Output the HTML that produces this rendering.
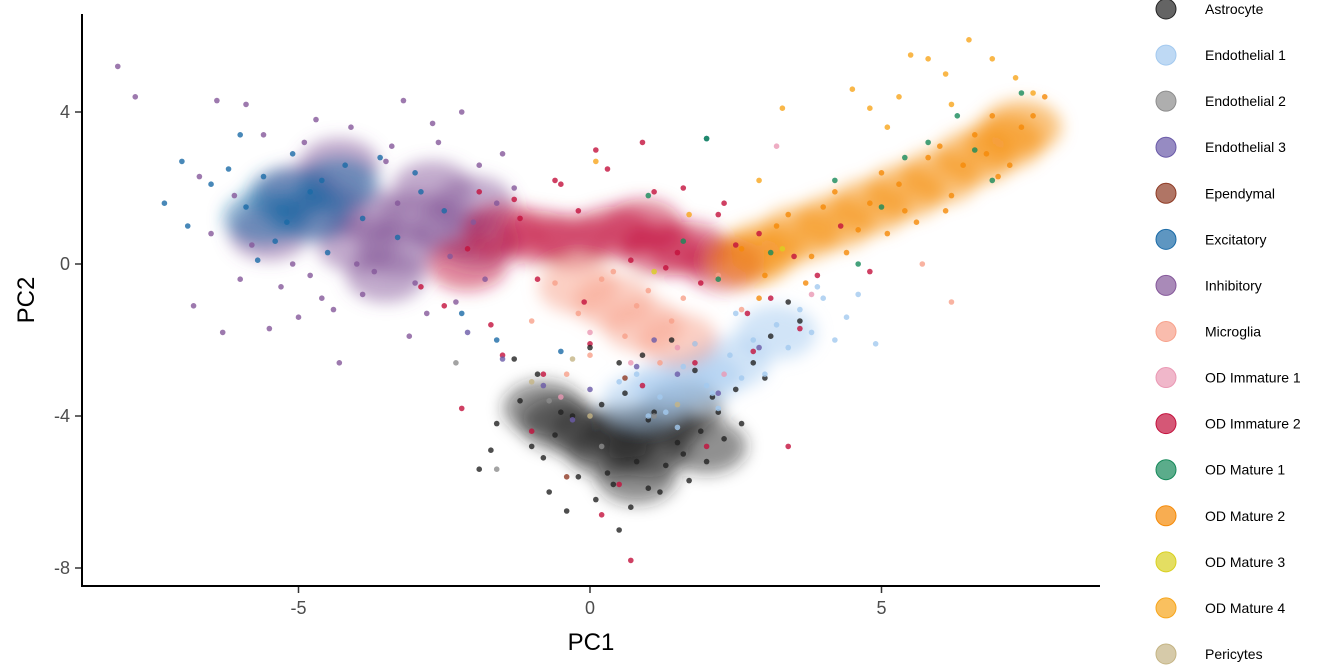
<!DOCTYPE html>
<html><head><meta charset="utf-8">
<style>
html,body{margin:0;padding:0;background:#fff;}
svg{display:block;font-family:"Liberation Sans",Arial,sans-serif;}
</style></head>
<body>
<svg id="chart" width="1344" height="672" viewBox="0 0 1344 672">
  <defs><filter id="blur" x="-50%" y="-50%" width="200%" height="200%"><feGaussianBlur stdDeviation="8"/></filter></defs>
  <g id="dense" filter="url(#blur)"></g>
  <g id="points"></g>
  <line x1="82" y1="14" x2="82" y2="587" stroke="#000" stroke-width="2"/>
  <line x1="81" y1="586" x2="1100" y2="586" stroke="#000" stroke-width="2"/>
  <g id="axes"></g>
  <text x="591" y="650" font-size="24" text-anchor="middle" fill="#000">PC1</text>
  <text transform="translate(34,300) rotate(-90)" font-size="24" text-anchor="middle" fill="#000">PC2</text>
  <g id="legend"></g>
</svg>
<script>
const categories = ["Astrocyte","Endothelial 1","Endothelial 2","Endothelial 3","Ependymal","Excitatory","Inhibitory","Microglia","OD Immature 1","OD Immature 2","OD Mature 1","OD Mature 2","OD Mature 3","OD Mature 4","Pericytes"];
const colors = ["#222222","#a3c9ef","#8c8c8c","#6a5aa8","#8e3a24","#1a6aa6","#85589a","#f7a08a","#ea98b4","#c3103c","#16895a","#f58a07","#d9d020","#f7a51b","#c4b484"];
const xTicks = [-5,0,5];
const yTicks = [4,0,-4,-8];

const coreCat = [6,6,6,6,6,6,6,6,6,6,6,6,6,5,5,5,5,9,9,9,9,9,9,9,9,9,0,0,0,0,0,0,0,0,0,0,1,1,1,1,1,11,11,11,11,11,11,11,11,11,11,7,7,7,7];
const coreX =   [-4.5,-3.8,-3.0,-2.4,-4.0,-3.3,-2.7,-5.0,-1.9,-5.5,-4.3,-2.0,-3.5,-5.2,-4.8,-4.3,-5.6,-1.5,-0.9,-0.3,0.4,-2.1,1.2,0.9,1.7,2.3,0.0,0.6,1.2,-0.5,0.3,1.0,1.6,-0.8,2.0,0.8,1.4,1.9,2.4,0.9,3.2,3.0,3.6,4.2,4.8,5.4,6.0,6.6,7.1,2.7,7.4,0.4,0.9,-0.2,1.5];
const coreY =   [1.4,1.3,1.2,0.9,0.5,0.4,2.0,1.9,0.6,0.8,2.6,1.6,-0.3,1.8,1.3,2.1,1.2,0.9,0.7,0.6,0.8,0.0,0.4,1.0,0.4,0.0,-4.5,-4.4,-4.3,-4.2,-4.9,-4.9,-3.8,-3.8,-4.8,-5.6,-3.2,-3.0,-2.6,-3.6,-1.8,0.4,0.8,1.1,1.5,1.9,2.3,2.8,3.2,0.1,3.6,-1.0,-1.6,-0.6,-2.0];

const astroX=[-1.9,-1.6,-1.2,-0.8,-0.5,-0.2,0.1,0.4,0.7,1.0,1.3,1.6,1.9,2.2,2.5,2.8,3.1,3.4,-1.0,-0.6,0.2,0.6,1.1,1.5,2.0,-1.3,-0.9,0.0,0.5,0.9,1.4,1.8,2.3,-0.4,0.3,0.8,1.2,2.6,3.0,3.6,-1.7,-0.3,1.7,2.1,0.5,-0.7,1.0];
const astroY=[-5.4,-4.2,-3.6,-5.1,-3.9,-5.6,-6.2,-5.8,-6.4,-5.9,-5.3,-5.0,-4.4,-3.9,-3.3,-2.6,-1.9,-1.0,-4.8,-4.5,-3.7,-3.4,-3.9,-4.7,-5.2,-2.5,-2.9,-2.2,-2.6,-2.4,-2.0,-2.8,-4.6,-6.5,-5.5,-5.2,-6.0,-4.2,-3.0,-1.5,-4.9,-4.0,-5.7,-3.5,-7.0,-6.0,-4.1];
const endo1X=[0.8,1.2,1.6,2.0,2.4,2.8,3.2,3.6,4.0,4.4,4.6,1.0,1.5,2.2,2.6,3.0,3.4,3.8,4.2,0.5,1.8,2.5,3.9,4.9,1.3,2.1];
const endo1Y=[-2.9,-3.5,-2.7,-3.2,-2.4,-2.0,-1.6,-1.2,-0.9,-1.4,-0.8,-4.0,-4.3,-3.8,-3.0,-2.9,-2.2,-1.8,-2.0,-3.1,-2.1,-1.3,-0.6,-2.1,-3.9,-3.4];
const endo2X=[-1.6,-0.7,0.2,1.1,-2.3];const endo2Y=[-5.4,-3.6,-4.8,-4.0,-2.6];
const endo3X=[-2.1,-1.5,-0.8,0.0,0.8,1.5,2.2,2.9,-0.3,1.1];const endo3Y=[-1.8,-2.5,-3.2,-3.3,-2.7,-2.9,-3.4,-2.2,-4.1,-2.0];
const ependX=[0.6,-0.4];const ependY=[-3.0,-5.6];
const excX=[-7.3,-7.0,-6.9,-6.5,-6.2,-5.9,-5.6,-5.4,-5.1,-4.8,-4.5,-4.2,-3.9,-3.6,-3.3,-2.9,-2.5,-5.7,-5.2,-4.6,-3.0,-1.6,-0.5,2.0,-2.2,-6.0];
const excY=[1.6,2.7,1.0,2.1,2.5,1.5,2.3,0.6,2.9,1.9,0.3,2.6,1.2,2.8,0.7,1.9,1.4,0.1,1.1,2.2,2.4,-2.0,-2.3,3.3,-1.3,3.4];
const inhX=[-8.1,-7.8,-6.4,-5.9,-3.2,-2.2,-6.8,-6.3,-4.3,-5.5,-6.7,-6.1,-5.8,-5.3,-4.9,-4.6,-4.1,-3.7,-3.4,-3.0,-2.6,-2.3,-1.9,-1.6,-1.3,-5.0,-4.4,-3.9,-3.5,-2.8,-2.4,-6.5,-5.1,-4.7,-3.1,-2.0,-1.5,-5.6,-4.0,-3.3,-6.0,-2.7,-1.8,-4.8];
const inhY=[5.2,4.4,4.3,4.2,4.3,4.0,-1.1,-1.8,-2.6,-1.7,2.3,1.8,0.5,-0.6,3.2,-0.9,3.6,-0.2,3.1,-0.5,3.2,-1.0,2.6,1.6,2.0,-1.4,-1.2,-0.8,2.7,-1.3,0.2,0.8,0.0,3.8,-1.9,1.1,2.9,3.4,0.0,1.6,-0.4,3.7,-0.4,-0.3];
const microX=[-0.6,-0.2,0.2,0.6,1.0,1.4,1.8,2.2,0.0,0.4,0.8,1.2,-1.0,-0.4,1.6,2.6,6.2,5.7];
const microY=[-0.5,-1.3,-0.4,-1.9,-0.7,-1.5,-2.1,-0.3,-2.4,-0.2,-1.1,-2.6,-1.5,-2.9,-0.9,-1.2,-1.0,0.0];
const odi1X=[0.0,0.7,1.5,2.3,-0.5,3.2,3.8];const odi1Y=[-1.8,-2.6,-2.2,-2.9,-3.5,3.1,-0.8];
const odi2X=[-2.9,-2.5,-2.1,-1.7,-1.3,-0.9,-0.5,-0.1,0.3,0.7,1.1,1.5,1.9,2.3,2.7,3.1,3.5,3.9,4.3,-1.5,-0.8,0.0,0.9,1.8,2.8,3.6,-2.2,-1.0,0.5,2.0,-1.9,-0.2,1.3,2.5,0.2,0.7,3.4,4.8,-1.2,0.9,1.6,-0.6,0.1,2.2,2.9];
const odi2Y=[-0.6,-1.1,0.4,-1.6,1.7,-0.4,2.1,-1.0,2.5,0.1,1.9,0.3,-0.5,1.6,-1.3,-0.9,0.2,-0.3,1.0,-2.4,-2.9,-2.1,-3.2,-2.6,-2.3,-1.7,-3.8,-4.4,-5.8,-4.8,1.9,1.4,-0.1,0.5,-6.6,-7.8,-4.8,-0.2,1.2,3.2,2.0,2.2,3.0,1.3,0.8];
const odm1X=[1.0,1.6,2.0,2.2,3.1,4.2,5.0,5.8,6.3,6.9,7.4,4.6,5.4,6.6];const odm1Y=[1.8,0.6,3.3,-0.4,0.3,2.2,1.5,3.2,3.9,2.2,4.5,0.0,2.8,3.0];
const odm2X=[2.6,3.0,3.4,3.8,4.2,4.6,5.0,5.4,5.8,6.2,6.6,7.0,7.4,7.8,3.2,3.7,4.4,5.1,5.6,6.0,6.4,6.9,7.2,2.9,4.0,4.8,5.3,6.8,7.6,6.1];
const odm2Y=[0.4,-0.3,1.3,0.2,1.9,0.9,2.4,1.4,2.8,1.8,3.4,2.3,3.6,4.4,1.0,-0.5,0.3,0.8,1.1,3.1,2.6,3.9,2.6,-0.9,1.5,1.6,2.1,2.9,3.9,1.4];
const odm3X=[1.1,3.3];const odm3Y=[-0.2,0.4];
const odm4X=[0.1,1.7,3.3,4.5,5.3,5.5,5.8,6.1,6.5,6.9,7.3,4.8,5.1,2.9,7.6,6.2];const odm4Y=[2.7,1.3,4.1,4.6,4.4,5.5,5.4,5.0,5.9,5.4,4.9,4.1,3.6,2.2,4.5,4.2];
const periX=[-1.0,0.0,1.5,-0.3];const periY=[-3.1,-4.0,-3.7,-2.5];

const seriesX=[astroX,endo1X,endo2X,endo3X,ependX,excX,inhX,microX,odi1X,odi2X,odm1X,odm2X,odm3X,odm4X,periX];
const seriesY=[astroY,endo1Y,endo2Y,endo3Y,ependY,excY,inhY,microY,odi1Y,odi2Y,odm1Y,odm2Y,odm3Y,odm4Y,periY];
const drawOrder=[6,5,9,7,8,0,1,2,3,4,14,11,13,10,12];

const NS="http://www.w3.org/2000/svg";
function xs(v){return 590+v*58.3;}
function ys(v){return 264-v*38;}

const dense=document.getElementById('dense');
for(let i=0;i<coreCat.length;i++){
  const c=document.createElementNS(NS,'ellipse');
  
  
  c.setAttribute('cx',xs(coreX[i]));c.setAttribute('cy',ys(coreY[i]));
  c.setAttribute('rx',40);c.setAttribute('ry',27);
  c.setAttribute('fill',colors[coreCat[i]]);c.setAttribute('opacity',0.5);
  dense.appendChild(c);
}
const pts=document.getElementById('points');
drawOrder.forEach(k=>{
  const X=seriesX[k],Y=seriesY[k];
  for(let i=0;i<X.length;i++){
    const c=document.createElementNS(NS,'circle');
    
    
    c.setAttribute('cx',xs(X[i]));c.setAttribute('cy',ys(Y[i]));
    c.setAttribute('r',2.8);c.setAttribute('fill',colors[k]);c.setAttribute('opacity',0.8);
    pts.appendChild(c);
  }
});
const axes=document.getElementById('axes');
xTicks.forEach(t=>{
  const l=document.createElementNS(NS,'line');
  
  
  l.setAttribute('x1',xs(t));l.setAttribute('x2',xs(t));l.setAttribute('y1',587);l.setAttribute('y2',593);
  l.setAttribute('stroke','#333');l.setAttribute('stroke-width',1.5);axes.appendChild(l);
  const tx=document.createElementNS(NS,'text');
  
  
  tx.setAttribute('x',xs(t));tx.setAttribute('y',614);tx.setAttribute('font-size',18);
  tx.setAttribute('text-anchor','middle');tx.setAttribute('fill','#4d4d4d');tx.textContent=t;axes.appendChild(tx);
});
yTicks.forEach(t=>{
  const l=document.createElementNS(NS,'line');
  
  
  l.setAttribute('x1',75);l.setAttribute('x2',81);l.setAttribute('y1',ys(t));l.setAttribute('y2',ys(t));
  l.setAttribute('stroke','#333');l.setAttribute('stroke-width',1.5);axes.appendChild(l);
  const tx=document.createElementNS(NS,'text');
  
  
  tx.setAttribute('x',70);tx.setAttribute('y',ys(t)+6);tx.setAttribute('font-size',18);
  tx.setAttribute('text-anchor','end');tx.setAttribute('fill','#4d4d4d');tx.textContent=t;axes.appendChild(tx);
});
const leg=document.getElementById('legend');
categories.forEach((name,i)=>{
  const y=9+i*46.07;
  const g=document.createElementNS(NS,'g');
  
  
  const c=document.createElementNS(NS,'circle');
  
  
  c.setAttribute('cx',1166);c.setAttribute('cy',y);c.setAttribute('r',10);
  c.setAttribute('fill',colors[i]);c.setAttribute('fill-opacity',0.7);c.setAttribute('stroke',colors[i]);c.setAttribute('stroke-width',1);
  g.appendChild(c);
  const t=document.createElementNS(NS,'text');
  
  
  t.setAttribute('x',1205);t.setAttribute('y',y+5);t.setAttribute('font-size',14);t.setAttribute('fill','#000');
  t.textContent=name;g.appendChild(t);
  leg.appendChild(g);
});
</script>
</body></html>
